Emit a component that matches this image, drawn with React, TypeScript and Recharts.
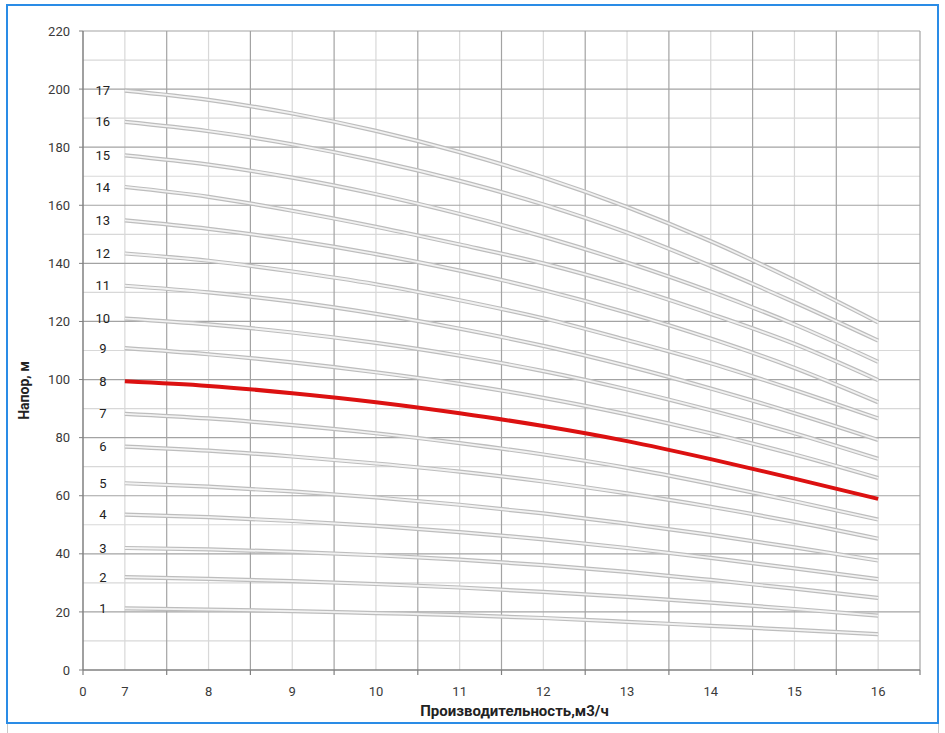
import { LabelList, Line, LineChart, ReferenceLine, XAxis, YAxis } from "recharts";

// подача, м3/ч
const flow = [7, 8, 9, 10, 11, 12, 13, 14, 15, 16];

// напор по числу ступеней, м
const stage1 = [21.2, 20.8, 20.3, 19.6, 18.9, 17.9, 16.6, 15.2, 13.8, 12.3];
const stage2 = [32.0, 31.4, 30.6, 29.6, 28.4, 26.9, 25.2, 23.2, 21.0, 18.7];
const stage3 = [42.0, 41.5, 40.7, 39.5, 38.0, 36.1, 33.8, 31.0, 28.0, 24.8];
const stage4 = [53.5, 52.6, 51.3, 49.6, 47.5, 45.0, 42.0, 38.6, 35.0, 31.3];
const stage5 = [64.3, 63.1, 61.5, 59.4, 56.9, 53.9, 50.4, 46.5, 42.2, 37.7];
const stage6 = [76.9, 75.5, 73.5, 71.1, 68.3, 64.9, 60.8, 56.2, 51.0, 45.2];
const stage7 = [88.2, 86.6, 84.3, 81.5, 78.1, 74.2, 69.6, 64.1, 58.1, 51.8];
const stage8 = [99.4, 97.8, 95.3, 92.2, 88.4, 84.0, 78.8, 72.6, 65.9, 58.9];
const stage9 = [110.8, 108.7, 105.9, 102.5, 98.5, 93.7, 88.0, 81.5, 74.2, 66.1];
const stage10 = [121.0, 119.0, 116.2, 112.6, 108.2, 102.9, 96.6, 89.4, 81.5, 72.7];
const stage11 = [132.3, 130.0, 126.8, 122.6, 117.5, 111.6, 104.7, 96.9, 88.4, 79.2];
const stage12 = [143.4, 140.9, 137.2, 132.8, 127.3, 121.1, 113.6, 105.6, 96.4, 86.6];
const stage13 = [154.8, 151.9, 148.0, 143.2, 137.5, 130.8, 123.0, 114.1, 104.0, 92.2];
const stage14 = [166.3, 162.9, 158.1, 152.6, 146.5, 140.0, 132.0, 122.6, 112.3, 99.8];
const stage15 = [177.2, 174.0, 169.5, 163.8, 157.0, 149.2, 140.3, 130.3, 119.0, 106.1];
const stage16 = [188.7, 185.5, 181.0, 175.3, 168.4, 160.3, 150.6, 139.1, 126.6, 113.4];
const stage17 = [199.5, 196.3, 191.6, 185.6, 178.3, 169.6, 159.4, 147.6, 134.2, 119.7];

const stages = [
  stage1, stage2, stage3, stage4, stage5, stage6, stage7, stage8, stage9,
  stage10, stage11, stage12, stage13, stage14, stage15, stage16, stage17,
];
const stageNames = ["1", "2", "3", "4", "5", "6", "7", "8", "9", "10", "11", "12", "13", "14", "15", "16", "17"];
const highlighted = "8";

// оси
const xLabelValues = [6.5, 7, 8, 9, 10, 11, 12, 13, 14, 15, 16];
const xLabelTexts = ["0", "7", "8", "9", "10", "11", "12", "13", "14", "15", "16"];
const xMajor = [6.5, 7.5, 8.5, 9.5, 10.5, 11.5, 12.5, 13.5, 14.5, 15.5, 16.5];
const xMinor = [7, 8, 9, 10, 11, 12, 13, 14, 15, 16];
const yTicks = [0, 20, 40, 60, 80, 100, 120, 140, 160, 180, 200, 220];
const yMinor = [10, 30, 50, 70, 90, 110, 130, 150, 170, 190, 210];

const rows = flow.map((q, i) => {
  const row: Record<string, number> = { q };
  stages.forEach((s, k) => {
    row[`s${stageNames[k]}`] = s[i];
  });
  return row;
});

const xTicks = Array.from(new Set([...xLabelValues, ...xMajor])).sort((a, b) => a - b);

const AXIS = "#808080";
const GRID_DARK = "#a3a3a3";
const GRID_LIGHT = "#d8d8d8";
const TEXT = "#3a3a3a";

function FlowTick(props: any) {
  const { x, y, payload } = props;
  const v = payload.value as number;
  const idx = xLabelValues.indexOf(v);
  const mark = xMajor.includes(v);
  return (
    <g>
      {mark && <line x1={x} x2={x} y1={y - 16} y2={y - 11} stroke={AXIS} strokeWidth={1.2} />}
      {idx >= 0 && (
        <text x={x} y={y} dy="0.75em" textAnchor="middle" fontSize={13} fill={TEXT}>
          {xLabelTexts[idx]}
        </text>
      )}
    </g>
  );
}

function stageLabel(name: string) {
  return (p: any) =>
    p.index === 0 ? (
      <text x={p.x - 22} y={p.y} dy="0.35em" textAnchor="middle" fontSize={13} fill="#222">
        {name}
      </text>
    ) : null;
}

export default function App() {
  return (
    <div
      style={{
        position: "absolute",
        left: 0,
        top: 0,
        width: 945,
        height: 733,
        background: "#fff",
        fontFamily: "Roboto, 'Noto Sans', sans-serif",
      }}
    >
      <div
        style={{
          position: "absolute",
          left: 7,
          top: 4,
          width: 930,
          height: 729,
          borderLeft: "1px solid #c8c8c8",
          borderRight: "1px solid #c8c8c8",
        }}
      />
      <div
        style={{
          position: "absolute",
          left: 6,
          top: 4,
          width: 929,
          height: 716,
          border: "2px solid #2a8ce6",
        }}
      />
      <div style={{ position: "absolute", left: 0, top: 0 }}>
        <LineChart width={945} height={733} data={rows} margin={{ top: 31, right: 25, bottom: 11, left: 0 }}>
          {yMinor.map((v) => (
            <ReferenceLine key={`hy${v}`} y={v} stroke={GRID_LIGHT} strokeWidth={1.2} />
          ))}
          {xMinor.map((v) => (
            <ReferenceLine key={`hx${v}`} x={v} stroke={GRID_LIGHT} strokeWidth={1.2} />
          ))}
          {yTicks.slice(1).map((v) => (
            <ReferenceLine key={`my${v}`} y={v} stroke={GRID_DARK} strokeWidth={1.2} />
          ))}
          {xMajor.slice(1).map((v) => (
            <ReferenceLine key={`mx${v}`} x={v} stroke={GRID_DARK} strokeWidth={1.2} />
          ))}
          <XAxis
            dataKey="q"
            type="number"
            domain={[6.5, 16.5]}
            ticks={xTicks}
            interval={0}
            height={52}
            tickSize={0}
            tickMargin={16}
            tickLine={false}
            axisLine={{ stroke: AXIS, strokeWidth: 1.5 }}
            tick={<FlowTick />}
            label={{
              content: (p: any) => (
                <text
                  x={p.viewBox.x + p.viewBox.width / 2 + 13}
                  y={p.viewBox.y + 46}
                  textAnchor="middle"
                  fontSize={15}
                  fontWeight={700}
                  fill="#222"
                >
                  Производительность,м3/ч
                </text>
              ),
            }}
          />
          <YAxis
            type="number"
            domain={[0, 220]}
            ticks={yTicks}
            interval={0}
            width={83}
            tickSize={4}
            tickMargin={9}
            tickLine={{ stroke: AXIS }}
            axisLine={{ stroke: AXIS, strokeWidth: 1.5 }}
            tick={{ fontSize: 13, fill: TEXT }}
            label={{
              content: (p: any) => {
                const cx = 24;
                const cy = p.viewBox.y + p.viewBox.height / 2 + 40;
                return (
                  <text
                    x={cx}
                    y={cy}
                    transform={`rotate(-90 ${cx} ${cy})`}
                    textAnchor="middle"
                    dy="0.35em"
                    fontSize={14}
                    fontWeight={700}
                    fill="#222"
                  >
                    Напор, м
                  </text>
                );
              },
            }}
          />
          {stageNames
            .filter((n) => n !== highlighted)
            .map((n) => (
              <Line
                key={`o${n}`}
                type="monotone"
                dataKey={`s${n}`}
                stroke="#bdbdbd"
                strokeWidth={4.2}
                dot={false}
                activeDot={false}
                isAnimationActive={false}
              >
                <LabelList dataKey={`s${n}`} content={stageLabel(n)} />
              </Line>
            ))}
          {stageNames
            .filter((n) => n !== highlighted)
            .map((n) => (
              <Line
                key={`i${n}`}
                type="monotone"
                dataKey={`s${n}`}
                stroke="#f2f2f2"
                strokeWidth={1.8}
                dot={false}
                activeDot={false}
                isAnimationActive={false}
              />
            ))}
          <Line
            type="monotone"
            dataKey={`s${highlighted}`}
            stroke="#dc1111"
            strokeWidth={4}
            dot={false}
            activeDot={false}
            isAnimationActive={false}
          >
            <LabelList dataKey={`s${highlighted}`} content={stageLabel(highlighted)} />
          </Line>
        </LineChart>
      </div>
    </div>
  );
}
